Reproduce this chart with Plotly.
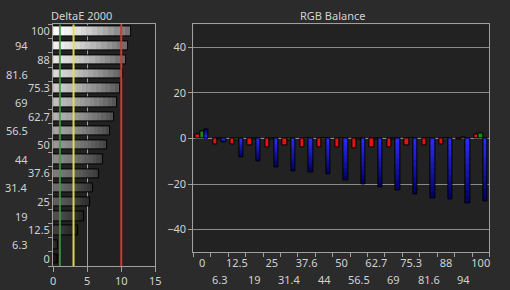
import plotly.graph_objects as go

# ---- data ----
levels = ["0", "6.3", "12.5", "19", "25", "31.4", "37.6", "44", "50",
          "56.5", "62.7", "69", "75.3", "81.6", "88", "94", "100"]
level_values = [0, 6.3, 12.5, 19, 25, 31.4, 37.6, 44, 50,
                56.5, 62.7, 69, 75.3, 81.6, 88, 94, 100]
delta_e = [0.7, 0.8, 3.6, 4.5, 5.5, 5.8, 6.8, 7.4, 7.9,
           8.4, 9.0, 9.4, 9.8, 10.3, 10.7, 11.0, 11.4]
red_bal = [1.9, -2.5, -2.5, -3.2, -3.8, -2.9, -3.8, -3.8, -3.8,
           -4.2, -3.8, -3.8, -3.2, -2.9, -2.5, -0.3, 1.6]
green_bal = [2.9, -0.5, -0.7, -0.5, -0.5, -1.0, -0.2, -0.2, -0.2,
             -0.5, -0.3, -0.5, -0.2, -0.2, -0.2, 0.4, 2.0]
blue_bal = [3.8, -1.7, -8.3, -10.2, -12.7, -14.4, -14.8, -16.0, -18.5,
            -20.1, -21.4, -23.0, -24.4, -26.2, -26.9, -28.4, -27.8]
thresholds = [1, 3, 10]
threshold_colors = ["rgba(70,150,70,0.85)", "rgba(225,225,80,0.95)", "rgba(205,55,55,0.95)"]
de_ticks = [0, 5, 10, 15]
bal_ticks = [-40, -20, 0, 20, 40]

PAPER = "#2b2b2b"
PLOT = "#222222"
AX = "#a0a0a0"
TXT = "#d2d2d2"
FONT = "Noto Sans"
FS = 11

fig = go.Figure()

# ---- left panel: gradient bars built from overlaid segments ----
N = 14
def left_rgb(lv):
    return 25 + 230 * (lv / 100.0) ** 0.85
for k in range(N, 0, -1):
    t = (k - 0.5) / N
    cols = []
    for lv in level_values:
        l = left_rgb(lv)
        r = l * 0.42
        c = l - (l - r) * (t ** 1.4)
        c = int(max(0, min(255, c)))
        cols.append(f"rgb({c},{c},{c})")
    fig.add_trace(go.Bar(
        x=[v * k / N for v in delta_e], y=levels, orientation="h",
        marker=dict(color=cols, line=dict(width=0)),
        width=0.66, xaxis="x", yaxis="y", hoverinfo="skip", showlegend=False))
fig.add_trace(go.Bar(
    x=delta_e, y=levels, orientation="h",
    marker=dict(color="rgba(0,0,0,0)", line=dict(color="#000000", width=1)),
    width=0.66, xaxis="x", yaxis="y", hoverinfo="skip", showlegend=False))

# ---- right panel: RGB balance ----
W = 0.25
fig.add_trace(go.Bar(
    x=levels, y=red_bal, offset=-1.5 * W, width=W,
    marker=dict(color="#e01414", line=dict(color="#000000", width=1)),
    xaxis="x2", yaxis="y2", hoverinfo="skip", showlegend=False))
fig.add_trace(go.Bar(
    x=levels, y=green_bal, offset=-0.5 * W, width=W,
    marker=dict(color="#148c14", line=dict(color="#000000", width=1)),
    xaxis="x2", yaxis="y2", hoverinfo="skip", showlegend=False))
NB = 10
for k in range(NB, 0, -1):
    t = (k - 0.5) / NB
    rr = int(45 - 45 * t)
    bb = int(255 - 160 * t)
    fig.add_trace(go.Bar(
        x=levels, y=[v * k / NB for v in blue_bal], offset=0.5 * W, width=W,
        marker=dict(color=f"rgb({rr},{rr},{bb})", line=dict(width=0)),
        xaxis="x2", yaxis="y2", hoverinfo="skip", showlegend=False))
fig.add_trace(go.Bar(
    x=levels, y=blue_bal, offset=0.5 * W, width=W,
    marker=dict(color="rgba(0,0,0,0)", line=dict(color="#000000", width=1)),
    xaxis="x2", yaxis="y2", hoverinfo="skip", showlegend=False))

# threshold lines
for xv, col in zip(thresholds, threshold_colors):
    fig.add_shape(type="line", xref="x", yref="y domain", x0=xv, x1=xv, y0=0, y1=1,
                  line=dict(color=col, width=2), layer="above")

# staggered tick labels: even ones via axis, odd ones as annotations
left_ticktext = [lab if i % 2 == 0 else "" for i, lab in enumerate(levels)]
right_ticktext = [lab if i % 2 == 0 else "" for i, lab in enumerate(levels)]

annotations = [
    dict(text="DeltaE 2000", x=80 / 510, y=1 - 15 / 290, xref="paper", yref="paper",
         xanchor="center", yanchor="middle", showarrow=False, font=dict(color=TXT, size=FS, family=FONT)),
    dict(text="RGB Balance", x=335 / 510, y=1 - 15 / 290, xref="paper", yref="paper",
         xanchor="center", yanchor="middle", showarrow=False, font=dict(color=TXT, size=FS, family=FONT)),
]
for i, lab in enumerate(levels):
    if i % 2 == 1:
        annotations.append(dict(text=lab, x=27 / 510, y=i, xref="paper", yref="y",
                                xanchor="right", yanchor="middle", showarrow=False,
                                font=dict(color=TXT, size=FS, family=FONT)))
        annotations.append(dict(text=lab, x=i, y=1 - 279 / 290, xref="x2", yref="paper",
                                xanchor="center", yanchor="middle", showarrow=False,
                                font=dict(color=TXT, size=FS, family=FONT)))

axis_common = dict(showline=True, linecolor=AX, linewidth=1, mirror=True,
                   ticks="outside", tickcolor=AX, tickwidth=1,
                   tickfont=dict(color=TXT, size=FS, family=FONT), zeroline=False)

fig.update_layout(
    width=510, height=290, margin=dict(l=0, r=0, t=0, b=0),
    paper_bgcolor=PAPER, plot_bgcolor=PLOT, barmode="overlay", bargap=0,
    font=dict(family=FONT, color=TXT, size=FS), hovermode=False,
    xaxis=dict(domain=[0.1, 0.304], range=[0, 15], tickmode="array", tickvals=de_ticks,
               showgrid=True, gridcolor=AX, gridwidth=1, ticklen=5, tickangle=0,
               anchor="y", **axis_common),
    yaxis=dict(domain=[0.083, 0.919], type="category", categoryorder="array", categoryarray=levels,
               range=[-0.5, 16.5], tickmode="array", tickvals=levels, ticktext=left_ticktext,
               tickson="boundaries", ticklen=4, showgrid=False, anchor="x", **axis_common),
    xaxis2=dict(domain=[0.380, 0.971], type="category", categoryorder="array", categoryarray=levels,
                range=[-0.5, 16.5], tickmode="array", tickvals=levels, ticktext=right_ticktext,
                tickson="boundaries", ticklen=4, tickangle=0, showgrid=False, anchor="y2", **axis_common),
    yaxis2=dict(domain=[0.130, 0.919], range=[-50, 50], tickmode="array", tickvals=bal_ticks,
                showgrid=True, gridcolor="#8c8c8c", gridwidth=1, ticklen=4, anchor="x2", **axis_common),
    annotations=annotations,
)

fig.write_html("out.html")
